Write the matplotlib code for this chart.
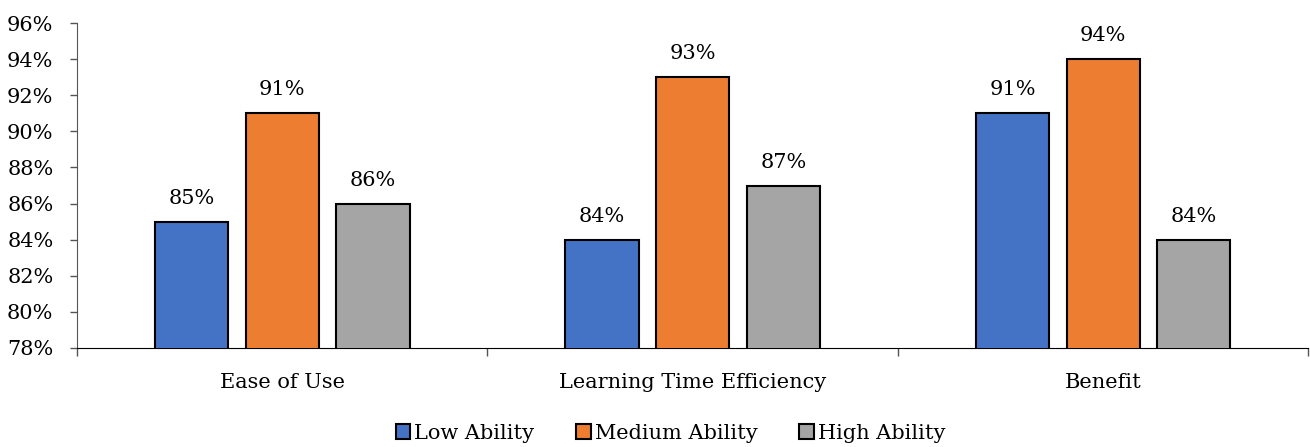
import matplotlib.pyplot as plt
import numpy as np

# data
categories = ["Ease of Use", "Learning Time Efficiency", "Benefit"]
series_names = ["Low Ability", "Medium Ability", "High Ability"]
low = [85, 84, 91]
medium = [91, 93, 94]
high = [86, 87, 84]
colors = ["#4472C4", "#ED7D31", "#A5A5A5"]

plt.rcParams['font.family'] = ['DejaVu Serif']

fig = plt.figure(figsize=(13.1, 4.47), dpi=100)
ax = fig.add_axes([0.0588, 0.2215, 0.94, 0.727])

x = np.arange(len(categories))
width = 0.178
step = 0.221
for i, (vals, name, c) in enumerate(zip([low, medium, high], series_names, colors)):
    pos = x + (i - 1) * step
    bars = ax.bar(pos, vals, width, bottom=0, color=c, edgecolor="black",
                  linewidth=1.5, label=name, zorder=3)
    for b, v in zip(bars, vals):
        ax.annotate(f"{v}%", (b.get_x() + b.get_width() / 2, v),
                    xytext=(0, 10), textcoords="offset points",
                    ha="center", va="bottom", fontsize=15)

ax.set_ylim(78, 96)
ax.set_yticks(np.arange(78, 97, 2))
ax.set_yticklabels([f"{t}%" for t in range(78, 97, 2)], fontsize=15)
ax.set_xlim(-0.5, 2.5)
ax.set_xticks(x)
ax.set_xticklabels(categories, fontsize=15)
ax.tick_params(axis="x", length=0, pad=18)
ax.set_xticks([-0.5, 0.5, 1.5, 2.5], minor=True)
ax.tick_params(axis="x", which="minor", length=6, width=1, color="#555555")
ax.tick_params(axis="y", length=5, width=1, color="#555555", pad=12)

for s in ["top", "right"]:
    ax.spines[s].set_visible(False)
ax.spines["left"].set_color("#555555")
ax.spines["bottom"].set_color("black")

leg = ax.legend(loc="center", bbox_to_anchor=(0.482, -0.262), ncol=3,
                frameon=False, fontsize=15, handlelength=0.7, handleheight=0.7,
                handletextpad=0.2, columnspacing=2.0)
for h in leg.legend_handles:
    h.set_linewidth(1.5)

fig.savefig("out.png", dpi=100)
